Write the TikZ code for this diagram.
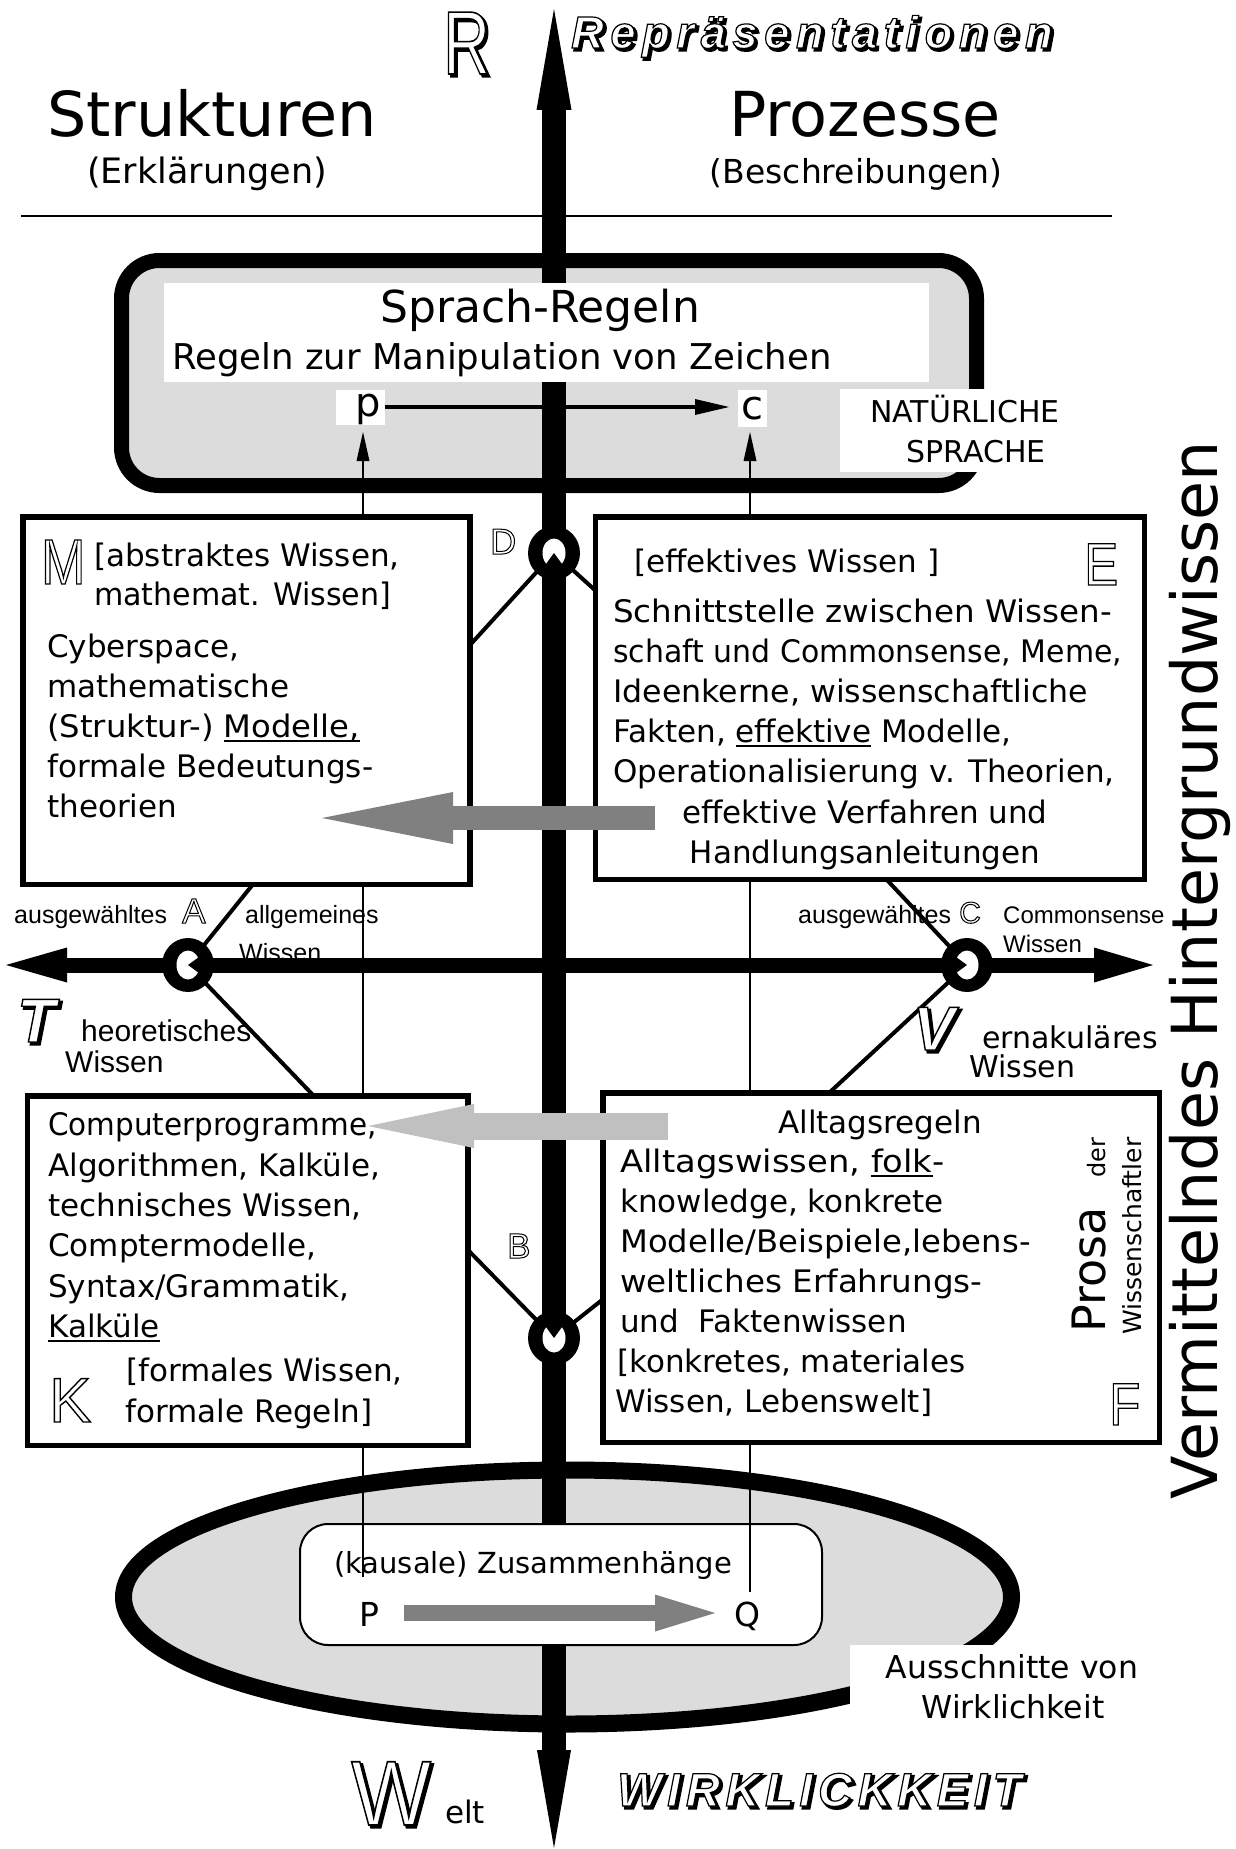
\documentclass[tikz,border=0pt]{standalone}
\usepackage{fontspec}
\usepackage{graphicx}
\usetikzlibrary{shapes.geometric}
\newfontfamily\dv{DejaVu Sans}
\newfontfamily\ar{Liberation Sans}
\newfontfamily\arsp{Liberation Sans}[LetterSpace=15]
\newfontfamily\arspb{Liberation Sans}[LetterSpace=12]
\definecolor{boxgray}{HTML}{DCDCDC}
\definecolor{darkg}{HTML}{808080}
\definecolor{lightg}{HTML}{C0C0C0}
\newcommand\fs[1]{\fontsize{#1}{#1}\selectfont}
\newsavebox\ulbox
\newcommand\ul[1]{\sbox\ulbox{#1}\rlap{\rule[-5pt]{\wd\ulbox}{1.6pt}}\usebox\ulbox}
\newcommand\sx[2]{\scalebox{#1}[1]{#2}}
% outlined text: white fill, thin black stroke (text render mode 2)
\newcommand\outl[2][1.3]{{\color{white}\special{pdf:literal direct 2 Tr #1 w 0 G}#2\special{pdf:literal direct 0 Tr}}}
% outlined text with a drop shadow to the lower right
\newcommand\outls[2][1.3]{\rlap{\hspace*{2.4pt}\raisebox{-2.4pt}{\color{black}\special{pdf:literal direct 2 Tr 2.2 w}#2\special{pdf:literal direct 0 Tr}}}\outl[#1]{#2}}
\tikzset{
  ringmark/.pic={
    \fill[black] (0,0) ellipse [x radius=26, y radius=27];
    \fill[white] (0,0) ellipse [x radius=11.5, y radius=14.5];
    \fill[black] (#1+36:22) -- (#1:0) -- (#1-36:22) -- cycle;
  },
  kbox/.style={draw, line width=5.5pt, fill=white, inner sep=0},
  bt/.style={anchor=base west, inner sep=0, font=\dv\fs{31}},
  btc/.style={anchor=base, inner sep=0, font=\dv\fs{31}},
  lab/.style={anchor=base west, inner sep=0, font=\ar\fs{25}},
  olet/.style={anchor=base west, inner sep=0},
  diag/.style={line width=4pt},
  thinline/.style={line width=1.6pt},
  wbox/.style={fill=white, inner sep=0},
}
\begin{document}
\begin{tikzpicture}[x=1pt,y=-1pt]
\useasboundingbox (0,0) rectangle (1236,1849);
\fill[white] (0,0) rectangle (1236,1849);

% header rule
\coordinate (rulel) at (21,216);
\coordinate (ruler) at (1112,216);
\draw[line width=2.5pt] (rulel) -- (ruler);

% Sprach box and world ellipse
\node[draw, line width=15pt, fill=boxgray, rounded corners=38pt, minimum width=855pt, minimum height=225pt, inner sep=0] (sprach) at (549,373) {};
\node[ellipse, draw, line width=17pt, fill=boxgray, minimum width=888pt, minimum height=254pt, inner sep=0] (welt) at (567.5,1597) {};

% text partly hidden by the axis
\node[lab] (allgW) at (239,961) {Wissen};

% main axes
\coordinate (Rtip) at (554,9);
\coordinate (Rbase) at (554,106);
\coordinate (Wtip) at (554,1848);
\coordinate (Wbase) at (554,1754);
\coordinate (Ttip) at (6,965);
\coordinate (Tbase) at (64,965);
\coordinate (Vtip) at (1153,965);
\coordinate (Vbase) at (1097,965);
\draw[line width=24pt] (Rbase) -- (Wbase);
\fill (Rtip) -- (536.5,110) -- (571.5,110) -- cycle;
\fill (Wtip) -- (537,1750) -- (571,1750) -- cycle;
\draw[line width=15pt] (Tbase) -- (Vbase);
\fill (Ttip) -- (67,947.5) -- (67,982.5) -- cycle;
\fill (Vtip) -- (1094,947.5) -- (1094,982.5) -- cycle;

% white panels
\node[wbox, minimum width=765pt, minimum height=99pt] (sprwhite) at (546.5,332.5) {};
\node[draw, line width=2pt, fill=white, rounded corners=28pt, minimum width=522pt, minimum height=121pt, inner sep=0] (kausal) at (561,1584.5) {};
\node[wbox, minimum width=220pt, minimum height=83pt] (natbox) at (950,430.5) {};
\node[wbox, minimum width=295pt, minimum height=95pt] (ausbox) at (997.5,1692.5) {};

% p -> c
\node[wbox, minimum width=49pt, minimum height=35pt] (p) at (360.5,407.5) {};
\node[wbox, minimum width=29pt, minimum height=37pt] (c) at (752.5,408.5) {};
\node[anchor=base, inner sep=0, font=\dv\fs{40}] (ptext) at (368,416) {p};
\node[anchor=base, inner sep=0, font=\dv\fs{40}] (ctext) at (752,419) {c};
\coordinate (carrow) at (729,407);
\coordinate (cabase) at (697,407);
\draw[line width=4pt] (p.east |- carrow) -- (cabase);
\fill (carrow) -- (695,399) -- (695,415) -- cycle;

% thin connectors from below
\coordinate (pbot) at (363,1577);
\coordinate (ptip) at (363,432);
\coordinate (cbot) at (750,1592);
\coordinate (ctip) at (750,432);
\draw[thinline] (pbot) -- (363,458);
\fill (ptip) -- (356.5,461) -- (369.5,461) -- cycle;
\draw[thinline] (cbot) -- (750,458);
\fill (ctip) -- (743.5,461) -- (756.5,461) -- cycle;

% ring positions and diagonal connectors
\coordinate (ringD) at (554,553);
\coordinate (ringB) at (554,1338);
\coordinate (ringA) at (188,965);
\coordinate (ringC) at (967,965);
\coordinate (dM) at (470,645);
\coordinate (dE) at (596,591);
\coordinate (aM) at (254,883);
\coordinate (aK) at (313,1095);
\coordinate (cE) at (887,880);
\coordinate (cF) at (829,1093);
\coordinate (bK) at (468,1250);
\coordinate (bF) at (602,1300);
\draw[diag] (ringD) -- (dM);
\draw[diag] (ringD) -- (dE);
\draw[diag] (ringA) -- (aM);
\draw[diag] (ringA) -- (aK);
\draw[diag] (ringC) -- (cE);
\draw[diag] (ringC) -- (cF);
\draw[diag] (ringB) -- (bK);
\draw[diag] (ringB) -- (bF);

% four knowledge boxes
\node[kbox, minimum width=447pt, minimum height=367.5pt] (Mbox) at (246.25,700.5) {};
\node[kbox, minimum width=549pt, minimum height=362.5pt] (Ebox) at (869.75,698) {};
\node[kbox, minimum width=440.5pt, minimum height=349.5pt] (Kbox) at (247.5,1270.5) {};
\node[kbox, minimum width=556.5pt, minimum height=349.5pt] (Fbox) at (881,1267.5) {};

% rings
\pic at (ringD) {ringmark=90};
\pic at (ringB) {ringmark=270};
\pic at (ringA) {ringmark=0};
\pic at (ringC) {ringmark=180};

% header texts
\node[anchor=base, inner sep=0, font=\dv\fs{62}] (strukt) at (212,136) {Strukturen};
\node[anchor=base, inner sep=0, font=\dv\fs{35}] (erkl) at (207,183) {(Erklärungen)};
\node[anchor=base, inner sep=0, font=\dv\fs{62}] (proz) at (865,136) {Prozesse};
\node[anchor=base, inner sep=0, font=\dv\fs{33}] (beschr) at (856,183) {(Beschreibungen)};

% Sprach-Regeln
\node[anchor=base, inner sep=0, font=\dv\fs{44}] (sr) at (540,322) {Sprach-Regeln};
\node[anchor=base west, inner sep=0, font=\dv\fs{35.5}] (rz) at (172,369) {Regeln zur Manipulation von Zeichen};
\node[anchor=base, inner sep=0, font=\dv\fs{30}] (nat1) at (965,422) {NATÜRLICHE};
\node[anchor=base, inner sep=0, font=\dv\fs{30}] (nat2) at (976,462) {SPRACHE};

% M box
\node[bt] (m1) at (94,566) {[abstraktes Wissen,};
\node[bt] (m2) at (94,605) {\sx{0.97}{mathemat. Wissen]}};
\node[bt] (m3) at (47,657) {Cyberspace,};
\node[bt] (m4) at (47,697) {mathematische};
\node[bt] (m5) at (47,737) {\sx{1.04}{(Struktur-) \ul{Modelle,}}};
\node[bt] (m6) at (47,777) {formale Bedeutungs-};
\node[bt] (m7) at (47,817) {theorien};

% E box
\node[bt] (e1) at (634,572) {[effektives Wissen ]};
\node[bt] (e2) at (613,622) {\sx{1.05}{Schnittstelle zwischen Wissen-}};
\node[bt] (e3) at (613,662) {\sx{0.965}{schaft und Commonsense, Meme,}};
\node[bt] (e4) at (613,702) {\sx{1.02}{Ideenkerne, wissenschaftliche}};
\node[bt] (e5) at (613,742) {Fakten, \ul{effektive} Modelle,};
\node[bt] (e6) at (613,782) {Operationalisierung v. Theorien,};
\node[btc] (e7) at (865,823) {effektive Verfahren und};
\node[btc] (e8) at (865,863) {Handlungsanleitungen};

% K box
\node[bt] (k1) at (48,1135) {\sx{0.95}{Computerprogramme,}};
\node[bt] (k2) at (48,1176) {Algorithmen, Kalküle,};
\node[bt] (k3) at (48,1216) {technisches Wissen,};
\node[bt] (k4) at (48,1256) {Comptermodelle,};
\node[bt] (k5) at (48,1297) {Syntax/Grammatik,};
\node[bt] (k6) at (48,1337) {\ul{Kalküle}};
\node[bt] (k7) at (126,1381) {[formales Wissen,};
\node[bt] (k8) at (125,1422) {formale Regeln]};

% F box
\node[btc] (f0) at (880,1133) {Alltagsregeln};
\node[bt] (f1) at (620,1172) {\sx{1.09}{Alltagswissen, \ul{folk}-}};
\node[bt] (f2) at (620,1212) {knowledge, konkrete};
\node[bt] (f3) at (620,1252) {\sx{1.04}{Modelle/Beispiele,lebens-}};
\node[bt] (f4) at (620,1292) {\sx{1.05}{weltliches Erfahrungs-}};
\node[bt] (f5) at (620,1332) {und~~Faktenwissen};
\node[bt] (f6) at (617,1372) {[konkretes, materiales};
\node[bt] (f7) at (615,1412) {Wissen, Lebenswelt]};
\node[rotate=90, anchor=base west, inner sep=0] (prosa) at (1105,1333) {{\dv\fs{46}Prosa}\hspace{30pt}{\dv\fs{24}der}};
\node[rotate=90, anchor=base west, inner sep=0, font=\dv\fs{25}] (wiss) at (1141,1335) {Wissenschaftler};

% axis labels
\node[lab] (ausg1) at (14,923) {ausgewähltes};
\node[lab] (allg) at (245,923) {allgemeines};
\node[lab, font=\ar\fs{30}] (theo) at (81,1041) {heoretisches};
\node[lab, font=\ar\fs{30}] (theoW) at (65,1072) {Wissen};
\node[lab] (ausg2) at (798,923) {ausgewähltes};
\node[lab, font=\ar\fs{24}] (comm) at (1003,923) {Commonsense};
\node[lab, font=\ar\fs{24}] (commW) at (1003,952) {Wissen};
\node[bt, font=\dv\fs{30}] (vern) at (982,1048) {ernakuläres};
\node[bt, font=\dv\fs{30}] (vernW) at (969,1077) {Wissen};

% vertical side text
\node[rotate=90, anchor=base west, inner sep=0, font=\dv\fs{63.5}] (verm) at (1217,1500) {Vermittelndes Hintergrundwissen};

% bottom texts
\node[anchor=base, inner sep=0, font=\dv\fs{29}] (kz) at (533,1573) {(kausale) Zusammenhänge};
\node[anchor=base, inner sep=0, font=\dv\fs{33}] (P) at (369,1626) {P};
\node[anchor=base, inner sep=0, font=\dv\fs{33}] (Q) at (747,1626) {Q};
\node[anchor=base, inner sep=0, font=\dv\fs{31.5}] (aus1) at (1012,1678) {Ausschnitte von};
\node[anchor=base, inner sep=0, font=\dv\fs{31.5}] (aus2) at (1013,1718) {Wirklichkeit};
\node[anchor=base west, inner sep=0, font=\dv\fs{31}] (elt) at (445,1823) {elt};

% gray block arrows
\coordinate (g1tail) at (655,818);
\coordinate (g1tip) at (322,818);
\coordinate (g2tail) at (668,1126);
\coordinate (g2tip) at (368,1126);
\coordinate (pqtail) at (404,1613);
\coordinate (pqtip) at (715,1613);
\draw[line width=24pt, darkg] (g1tail) -- (451,818);
\fill[darkg] (g1tip) -- (453,792) -- (453,844) -- cycle;
\draw[line width=27pt, lightg] (g2tail) -- (472,1126);
\fill[lightg] (g2tip) -- (474,1104) -- (474,1148) -- cycle;
\draw[line width=16pt, darkg] (pqtail) -- (657,1613);
\fill[darkg] (pqtip) -- (655,1594.5) -- (655,1631.5) -- cycle;

% outlined letters
\node[olet, font=\ar\fs{90}] (Rlet) at (443,74) {\outls[1.6]{\sx{0.72}{R}}};
\node[olet, font=\arsp\bfseries\itshape\fs{45}] (repr) at (571,48) {\outls[1.2]{Repräsentationen}};
\node[olet, font=\ar\fs{64}] (Mlet) at (41,584) {\outl[1.4]{\sx{0.83}{M}}};
\node[olet, font=\ar\fs{60}] (Elet) at (1084,585) {\outl[1.4]{\sx{0.85}{E}}};
\node[olet, font=\ar\fs{63}] (Klet) at (49,1422) {\outl[1.4]{K}};
\node[olet, font=\ar\fs{60}] (Flet) at (1109,1425) {\outl[1.4]{\sx{0.85}{F}}};
\node[olet, font=\ar\fs{35}] (Alet) at (182,923) {\outl[1.0]{A}};
\node[olet, font=\ar\fs{30}] (Clet) at (959,923) {\outl[1.0]{C}};
\node[olet, font=\ar\fs{36}] (Dlet) at (490,554) {\outl[1.0]{D}};
\node[olet, font=\ar\fs{35}] (Blet) at (507,1258) {\outl[1.0]{B}};
\node[olet, font=\ar\bfseries\itshape\fs{62}] (Tlet) at (17,1042) {\outls[1.4]{T}};
\node[olet, font=\ar\bfseries\itshape\fs{62}] (Vlet) at (913,1050) {\outls[1.4]{V}};
\node[olet, font=\ar\fs{92}] (Wlet) at (351,1825) {\outls[1.6]{\sx{0.92}{W}}};
\node[olet, font=\arspb\bfseries\itshape\fs{47}] (wirk) at (617,1806) {\outls[1.2]{WIRKLICKKEIT}};
\end{tikzpicture}
\end{document}
